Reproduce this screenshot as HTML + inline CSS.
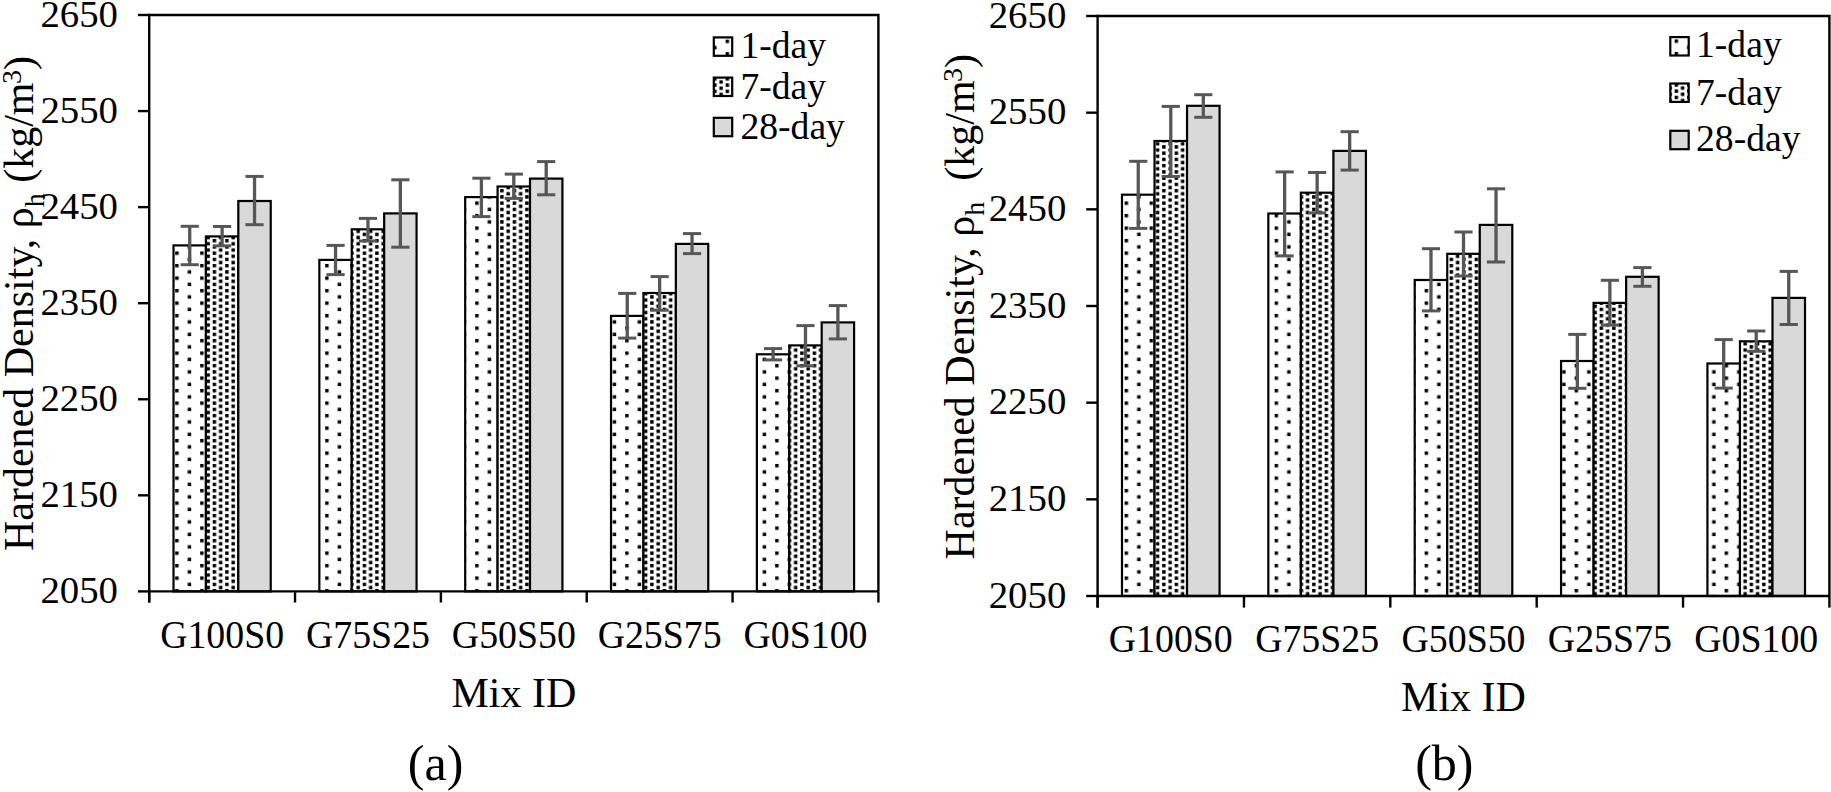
<!DOCTYPE html>
<html><head><meta charset="utf-8"><title>Hardened Density</title>
<style>
html,body{margin:0;padding:0;background:#fff;}
body{width:1831px;height:792px;overflow:hidden;}
svg{display:block;}
text{font-family:"Liberation Serif", "Times New Roman", serif;fill:#000;}
</style></head><body>
<svg width="1831" height="792" viewBox="0 0 1831 792">
<defs>
<pattern id="p10L" patternUnits="userSpaceOnUse" x="0.187" y="1.438" width="25.0" height="12.5"><rect x="0" y="0" width="3.45" height="3.45"/><rect x="12.5" y="6.25" width="3.45" height="3.45"/></pattern>
<pattern id="p25L" patternUnits="userSpaceOnUse" x="0.187" y="1.438" width="12.5" height="6.25"><rect x="0" y="0" width="3.45" height="3.45"/><rect x="6.25" y="3.125" width="3.45" height="3.45"/><rect x="6.25" y="-3.125" width="3.45" height="3.45"/></pattern>
<pattern id="p10R" patternUnits="userSpaceOnUse" x="-0.363" y="1.438" width="25.0" height="12.5"><rect x="0" y="0" width="3.45" height="3.45"/><rect x="12.5" y="6.25" width="3.45" height="3.45"/></pattern>
<pattern id="p25R" patternUnits="userSpaceOnUse" x="-0.363" y="1.438" width="12.5" height="6.25"><rect x="0" y="0" width="3.45" height="3.45"/><rect x="6.25" y="3.125" width="3.45" height="3.45"/><rect x="6.25" y="-3.125" width="3.45" height="3.45"/></pattern>
<pattern id="p10LG" patternUnits="userSpaceOnUse" x="0.627" y="2.127" width="25.0" height="12.5"><rect x="0" y="0" width="3.45" height="3.45"/><rect x="12.5" y="6.25" width="3.45" height="3.45"/></pattern>
<pattern id="p25LG" patternUnits="userSpaceOnUse" x="0.627" y="2.127" width="12.5" height="6.25"><rect x="0" y="0" width="3.45" height="3.45"/><rect x="6.25" y="3.125" width="3.45" height="3.45"/><rect x="6.25" y="-3.125" width="3.45" height="3.45"/></pattern>
<pattern id="p10RG" patternUnits="userSpaceOnUse" x="-0.363" y="1.938" width="25.0" height="12.5"><rect x="0" y="0" width="3.45" height="3.45"/><rect x="12.5" y="6.25" width="3.45" height="3.45"/></pattern>
<pattern id="p25RG" patternUnits="userSpaceOnUse" x="-0.363" y="1.938" width="12.5" height="6.25"><rect x="0" y="0" width="3.45" height="3.45"/><rect x="6.25" y="3.125" width="3.45" height="3.45"/><rect x="6.25" y="-3.125" width="3.45" height="3.45"/></pattern>
</defs>
<rect x="0" y="0" width="1831" height="792" fill="#fff"/>

<g>
<rect x="173.507" y="245.4" width="32.409" height="346" fill="#fff"/>
<rect x="173.507" y="245.4" width="32.409" height="346" fill="url(#p10L)" stroke="#000" stroke-width="2.2"/>
<rect x="205.916" y="236.4" width="32.409" height="355" fill="#fff"/>
<rect x="205.916" y="236.4" width="32.409" height="355" fill="url(#p25L)" stroke="#000" stroke-width="2.2"/>
<rect x="238.324" y="201" width="32.409" height="390.4" fill="#d9d9d9" stroke="#000" stroke-width="2.2"/>
<rect x="319.347" y="259.9" width="32.409" height="331.5" fill="#fff"/>
<rect x="319.347" y="259.9" width="32.409" height="331.5" fill="url(#p10L)" stroke="#000" stroke-width="2.2"/>
<rect x="351.756" y="229.3" width="32.409" height="362.1" fill="#fff"/>
<rect x="351.756" y="229.3" width="32.409" height="362.1" fill="url(#p25L)" stroke="#000" stroke-width="2.2"/>
<rect x="384.164" y="213.4" width="32.409" height="378" fill="#d9d9d9" stroke="#000" stroke-width="2.2"/>
<rect x="465.187" y="197.1" width="32.409" height="394.3" fill="#fff"/>
<rect x="465.187" y="197.1" width="32.409" height="394.3" fill="url(#p10L)" stroke="#000" stroke-width="2.2"/>
<rect x="497.596" y="186.5" width="32.409" height="404.9" fill="#fff"/>
<rect x="497.596" y="186.5" width="32.409" height="404.9" fill="url(#p25L)" stroke="#000" stroke-width="2.2"/>
<rect x="530.004" y="178.6" width="32.409" height="412.8" fill="#d9d9d9" stroke="#000" stroke-width="2.2"/>
<rect x="611.027" y="315.9" width="32.409" height="275.5" fill="#fff"/>
<rect x="611.027" y="315.9" width="32.409" height="275.5" fill="url(#p10L)" stroke="#000" stroke-width="2.2"/>
<rect x="643.436" y="293" width="32.409" height="298.4" fill="#fff"/>
<rect x="643.436" y="293" width="32.409" height="298.4" fill="url(#p25L)" stroke="#000" stroke-width="2.2"/>
<rect x="675.844" y="243.9" width="32.409" height="347.5" fill="#d9d9d9" stroke="#000" stroke-width="2.2"/>
<rect x="756.867" y="354.3" width="32.409" height="237.1" fill="#fff"/>
<rect x="756.867" y="354.3" width="32.409" height="237.1" fill="url(#p10L)" stroke="#000" stroke-width="2.2"/>
<rect x="789.276" y="345.4" width="32.409" height="246" fill="#fff"/>
<rect x="789.276" y="345.4" width="32.409" height="246" fill="url(#p25L)" stroke="#000" stroke-width="2.2"/>
<rect x="821.684" y="322.4" width="32.409" height="269" fill="#d9d9d9" stroke="#000" stroke-width="2.2"/>
</g>
<g stroke="#575757" fill="none">
<line x1="189.711" y1="226.3" x2="189.711" y2="264.7" stroke-width="3.3"/>
<line x1="180.611" y1="226.3" x2="198.811" y2="226.3" stroke-width="3.0"/>
<line x1="180.611" y1="264.7" x2="198.811" y2="264.7" stroke-width="3.0"/>
<line x1="222.12" y1="226.5" x2="222.12" y2="245.8" stroke-width="3.3"/>
<line x1="213.02" y1="226.5" x2="231.22" y2="226.5" stroke-width="3.0"/>
<line x1="213.02" y1="245.8" x2="231.22" y2="245.8" stroke-width="3.0"/>
<line x1="254.529" y1="176.4" x2="254.529" y2="224.7" stroke-width="3.3"/>
<line x1="245.429" y1="176.4" x2="263.629" y2="176.4" stroke-width="3.0"/>
<line x1="245.429" y1="224.7" x2="263.629" y2="224.7" stroke-width="3.0"/>
<line x1="335.551" y1="245.4" x2="335.551" y2="274.6" stroke-width="3.3"/>
<line x1="326.451" y1="245.4" x2="344.651" y2="245.4" stroke-width="3.0"/>
<line x1="326.451" y1="274.6" x2="344.651" y2="274.6" stroke-width="3.0"/>
<line x1="367.96" y1="218.4" x2="367.96" y2="241" stroke-width="3.3"/>
<line x1="358.86" y1="218.4" x2="377.06" y2="218.4" stroke-width="3.0"/>
<line x1="358.86" y1="241" x2="377.06" y2="241" stroke-width="3.0"/>
<line x1="400.369" y1="179.8" x2="400.369" y2="247.2" stroke-width="3.3"/>
<line x1="391.269" y1="179.8" x2="409.469" y2="179.8" stroke-width="3.0"/>
<line x1="391.269" y1="247.2" x2="409.469" y2="247.2" stroke-width="3.0"/>
<line x1="481.391" y1="178.2" x2="481.391" y2="216.6" stroke-width="3.3"/>
<line x1="472.291" y1="178.2" x2="490.491" y2="178.2" stroke-width="3.0"/>
<line x1="472.291" y1="216.6" x2="490.491" y2="216.6" stroke-width="3.0"/>
<line x1="513.8" y1="174.1" x2="513.8" y2="198.4" stroke-width="3.3"/>
<line x1="504.7" y1="174.1" x2="522.9" y2="174.1" stroke-width="3.0"/>
<line x1="504.7" y1="198.4" x2="522.9" y2="198.4" stroke-width="3.0"/>
<line x1="546.209" y1="161.6" x2="546.209" y2="194.8" stroke-width="3.3"/>
<line x1="537.109" y1="161.6" x2="555.309" y2="161.6" stroke-width="3.0"/>
<line x1="537.109" y1="194.8" x2="555.309" y2="194.8" stroke-width="3.0"/>
<line x1="627.231" y1="293.4" x2="627.231" y2="338.1" stroke-width="3.3"/>
<line x1="618.131" y1="293.4" x2="636.331" y2="293.4" stroke-width="3.0"/>
<line x1="618.131" y1="338.1" x2="636.331" y2="338.1" stroke-width="3.0"/>
<line x1="659.64" y1="276.6" x2="659.64" y2="310.2" stroke-width="3.3"/>
<line x1="650.54" y1="276.6" x2="668.74" y2="276.6" stroke-width="3.0"/>
<line x1="650.54" y1="310.2" x2="668.74" y2="310.2" stroke-width="3.0"/>
<line x1="692.049" y1="233.6" x2="692.049" y2="253.6" stroke-width="3.3"/>
<line x1="682.949" y1="233.6" x2="701.149" y2="233.6" stroke-width="3.0"/>
<line x1="682.949" y1="253.6" x2="701.149" y2="253.6" stroke-width="3.0"/>
<line x1="773.071" y1="348.6" x2="773.071" y2="359.9" stroke-width="3.3"/>
<line x1="763.971" y1="348.6" x2="782.171" y2="348.6" stroke-width="3.0"/>
<line x1="763.971" y1="359.9" x2="782.171" y2="359.9" stroke-width="3.0"/>
<line x1="805.48" y1="325.6" x2="805.48" y2="365.8" stroke-width="3.3"/>
<line x1="796.38" y1="325.6" x2="814.58" y2="325.6" stroke-width="3.0"/>
<line x1="796.38" y1="365.8" x2="814.58" y2="365.8" stroke-width="3.0"/>
<line x1="837.889" y1="305.6" x2="837.889" y2="338.9" stroke-width="3.3"/>
<line x1="828.789" y1="305.6" x2="846.989" y2="305.6" stroke-width="3.0"/>
<line x1="828.789" y1="338.9" x2="846.989" y2="338.9" stroke-width="3.0"/>
</g>
<g stroke="#000" stroke-width="2.4" fill="none" stroke-linecap="butt">
<path d="M149.2 15 H878.4 V591.4"/>
<path d="M149.2 13.8 V602.5"/>
<path d="M148 591.4 H878.4"/>
<path d="M138 15 H149.2"/>
<path d="M138 111.067 H149.2"/>
<path d="M138 207.133 H149.2"/>
<path d="M138 303.2 H149.2"/>
<path d="M138 399.267 H149.2"/>
<path d="M138 495.333 H149.2"/>
<path d="M138 591.4 H149.2"/>
<path d="M149.2 591.4 V602.5"/>
<path d="M295.04 591.4 V602.5"/>
<path d="M440.88 591.4 V602.5"/>
<path d="M586.72 591.4 V602.5"/>
<path d="M732.56 591.4 V602.5"/>
<path d="M878.4 591.4 V602.5"/>
</g>
<text x="118" y="26.8" font-size="38.8" text-anchor="end">2650</text>
<text x="118" y="122.867" font-size="38.8" text-anchor="end">2550</text>
<text x="118" y="218.933" font-size="38.8" text-anchor="end">2450</text>
<text x="118" y="315" font-size="38.8" text-anchor="end">2350</text>
<text x="118" y="411.067" font-size="38.8" text-anchor="end">2250</text>
<text x="118" y="507.133" font-size="38.8" text-anchor="end">2150</text>
<text x="118" y="603.2" font-size="38.8" text-anchor="end">2050</text>
<text transform="translate(222.12,647.9) scale(0.958,1.0)" font-size="39.5" text-anchor="middle">G100S0</text>
<text transform="translate(367.96,647.9) scale(0.958,1.0)" font-size="39.5" text-anchor="middle">G75S25</text>
<text transform="translate(513.8,647.9) scale(0.958,1.0)" font-size="39.5" text-anchor="middle">G50S50</text>
<text transform="translate(659.64,647.9) scale(0.958,1.0)" font-size="39.5" text-anchor="middle">G25S75</text>
<text transform="translate(805.48,647.9) scale(0.958,1.0)" font-size="39.5" text-anchor="middle">G0S100</text>
<text x="513.8" y="706.7" font-size="42" text-anchor="middle">Mix ID</text>
<text x="435.6" y="779.6" font-size="50" text-anchor="middle">(a)</text>
<rect x="712.8" y="36.4" width="20" height="20" fill="#fff"/>
<rect x="713.8" y="37.4" width="18.4" height="18.4" fill="url(#p10LG)" stroke="#000" stroke-width="2.2"/>
<text transform="translate(740.4,58.1) scale(0.978,1.0)" font-size="38.5">1-day</text>
<rect x="712.8" y="76.6" width="20" height="20" fill="#fff"/>
<rect x="713.8" y="77.6" width="18.4" height="18.4" fill="url(#p25LG)" stroke="#000" stroke-width="2.2"/>
<text transform="translate(740.4,99.3) scale(0.978,1.0)" font-size="38.5">7-day</text>
<rect x="713.8" y="117.8" width="18.4" height="18.4" fill="#d9d9d9" stroke="#000" stroke-width="2.2"/>
<text transform="translate(740.4,138.9) scale(0.978,1.0)" font-size="38.5">28-day</text>
<text transform="translate(33.2,551) rotate(-90)" font-size="42">Hardened Density, ρ<tspan font-size="28" dy="10.3">h</tspan><tspan dy="-10.3"> (kg/m</tspan><tspan font-size="28" dx="-1.5" dy="-12.2">3</tspan><tspan dy="12.2">)</tspan></text>
<g>
<rect x="1121.993" y="194.7" width="32.524" height="401.3" fill="#fff"/>
<rect x="1121.993" y="194.7" width="32.524" height="401.3" fill="url(#p10R)" stroke="#000" stroke-width="2.2"/>
<rect x="1154.518" y="141" width="32.524" height="455" fill="#fff"/>
<rect x="1154.518" y="141" width="32.524" height="455" fill="url(#p25R)" stroke="#000" stroke-width="2.2"/>
<rect x="1187.042" y="105.8" width="32.524" height="490.2" fill="#d9d9d9" stroke="#000" stroke-width="2.2"/>
<rect x="1268.353" y="213.5" width="32.524" height="382.5" fill="#fff"/>
<rect x="1268.353" y="213.5" width="32.524" height="382.5" fill="url(#p10R)" stroke="#000" stroke-width="2.2"/>
<rect x="1300.878" y="192.7" width="32.524" height="403.3" fill="#fff"/>
<rect x="1300.878" y="192.7" width="32.524" height="403.3" fill="url(#p25R)" stroke="#000" stroke-width="2.2"/>
<rect x="1333.402" y="150.9" width="32.524" height="445.1" fill="#d9d9d9" stroke="#000" stroke-width="2.2"/>
<rect x="1414.713" y="280" width="32.524" height="316" fill="#fff"/>
<rect x="1414.713" y="280" width="32.524" height="316" fill="url(#p10R)" stroke="#000" stroke-width="2.2"/>
<rect x="1447.238" y="253.8" width="32.524" height="342.2" fill="#fff"/>
<rect x="1447.238" y="253.8" width="32.524" height="342.2" fill="url(#p25R)" stroke="#000" stroke-width="2.2"/>
<rect x="1479.762" y="224.9" width="32.524" height="371.1" fill="#d9d9d9" stroke="#000" stroke-width="2.2"/>
<rect x="1561.073" y="361" width="32.524" height="235" fill="#fff"/>
<rect x="1561.073" y="361" width="32.524" height="235" fill="url(#p10R)" stroke="#000" stroke-width="2.2"/>
<rect x="1593.598" y="302.9" width="32.524" height="293.1" fill="#fff"/>
<rect x="1593.598" y="302.9" width="32.524" height="293.1" fill="url(#p25R)" stroke="#000" stroke-width="2.2"/>
<rect x="1626.122" y="276.8" width="32.524" height="319.2" fill="#d9d9d9" stroke="#000" stroke-width="2.2"/>
<rect x="1707.433" y="363.5" width="32.524" height="232.5" fill="#fff"/>
<rect x="1707.433" y="363.5" width="32.524" height="232.5" fill="url(#p10R)" stroke="#000" stroke-width="2.2"/>
<rect x="1739.958" y="341.3" width="32.524" height="254.7" fill="#fff"/>
<rect x="1739.958" y="341.3" width="32.524" height="254.7" fill="url(#p25R)" stroke="#000" stroke-width="2.2"/>
<rect x="1772.482" y="297.9" width="32.524" height="298.1" fill="#d9d9d9" stroke="#000" stroke-width="2.2"/>
</g>
<g stroke="#575757" fill="none">
<line x1="1138.256" y1="161.3" x2="1138.256" y2="228.4" stroke-width="3.3"/>
<line x1="1129.156" y1="161.3" x2="1147.356" y2="161.3" stroke-width="3.0"/>
<line x1="1129.156" y1="228.4" x2="1147.356" y2="228.4" stroke-width="3.0"/>
<line x1="1170.78" y1="106.4" x2="1170.78" y2="176.5" stroke-width="3.3"/>
<line x1="1161.68" y1="106.4" x2="1179.88" y2="106.4" stroke-width="3.0"/>
<line x1="1161.68" y1="176.5" x2="1179.88" y2="176.5" stroke-width="3.0"/>
<line x1="1203.304" y1="94.7" x2="1203.304" y2="117.3" stroke-width="3.3"/>
<line x1="1194.204" y1="94.7" x2="1212.404" y2="94.7" stroke-width="3.0"/>
<line x1="1194.204" y1="117.3" x2="1212.404" y2="117.3" stroke-width="3.0"/>
<line x1="1284.616" y1="171.9" x2="1284.616" y2="255.9" stroke-width="3.3"/>
<line x1="1275.516" y1="171.9" x2="1293.716" y2="171.9" stroke-width="3.0"/>
<line x1="1275.516" y1="255.9" x2="1293.716" y2="255.9" stroke-width="3.0"/>
<line x1="1317.14" y1="172.5" x2="1317.14" y2="212.9" stroke-width="3.3"/>
<line x1="1308.04" y1="172.5" x2="1326.24" y2="172.5" stroke-width="3.0"/>
<line x1="1308.04" y1="212.9" x2="1326.24" y2="212.9" stroke-width="3.0"/>
<line x1="1349.664" y1="131.7" x2="1349.664" y2="170.1" stroke-width="3.3"/>
<line x1="1340.564" y1="131.7" x2="1358.764" y2="131.7" stroke-width="3.0"/>
<line x1="1340.564" y1="170.1" x2="1358.764" y2="170.1" stroke-width="3.0"/>
<line x1="1430.976" y1="248.7" x2="1430.976" y2="310.9" stroke-width="3.3"/>
<line x1="1421.876" y1="248.7" x2="1440.076" y2="248.7" stroke-width="3.0"/>
<line x1="1421.876" y1="310.9" x2="1440.076" y2="310.9" stroke-width="3.0"/>
<line x1="1463.5" y1="232" x2="1463.5" y2="276" stroke-width="3.3"/>
<line x1="1454.4" y1="232" x2="1472.6" y2="232" stroke-width="3.0"/>
<line x1="1454.4" y1="276" x2="1472.6" y2="276" stroke-width="3.0"/>
<line x1="1496.024" y1="188.8" x2="1496.024" y2="262" stroke-width="3.3"/>
<line x1="1486.924" y1="188.8" x2="1505.124" y2="188.8" stroke-width="3.0"/>
<line x1="1486.924" y1="262" x2="1505.124" y2="262" stroke-width="3.0"/>
<line x1="1577.336" y1="334.4" x2="1577.336" y2="388.3" stroke-width="3.3"/>
<line x1="1568.236" y1="334.4" x2="1586.436" y2="334.4" stroke-width="3.0"/>
<line x1="1568.236" y1="388.3" x2="1586.436" y2="388.3" stroke-width="3.0"/>
<line x1="1609.86" y1="280.3" x2="1609.86" y2="325.1" stroke-width="3.3"/>
<line x1="1600.76" y1="280.3" x2="1618.96" y2="280.3" stroke-width="3.0"/>
<line x1="1600.76" y1="325.1" x2="1618.96" y2="325.1" stroke-width="3.0"/>
<line x1="1642.384" y1="267.6" x2="1642.384" y2="286.3" stroke-width="3.3"/>
<line x1="1633.284" y1="267.6" x2="1651.484" y2="267.6" stroke-width="3.0"/>
<line x1="1633.284" y1="286.3" x2="1651.484" y2="286.3" stroke-width="3.0"/>
<line x1="1723.696" y1="339.6" x2="1723.696" y2="388.1" stroke-width="3.3"/>
<line x1="1714.596" y1="339.6" x2="1732.796" y2="339.6" stroke-width="3.0"/>
<line x1="1714.596" y1="388.1" x2="1732.796" y2="388.1" stroke-width="3.0"/>
<line x1="1756.22" y1="331" x2="1756.22" y2="351.3" stroke-width="3.3"/>
<line x1="1747.12" y1="331" x2="1765.32" y2="331" stroke-width="3.0"/>
<line x1="1747.12" y1="351.3" x2="1765.32" y2="351.3" stroke-width="3.0"/>
<line x1="1788.744" y1="271.4" x2="1788.744" y2="324.5" stroke-width="3.3"/>
<line x1="1779.644" y1="271.4" x2="1797.844" y2="271.4" stroke-width="3.0"/>
<line x1="1779.644" y1="324.5" x2="1797.844" y2="324.5" stroke-width="3.0"/>
</g>
<g stroke="#000" stroke-width="2.4" fill="none" stroke-linecap="butt">
<path d="M1097.6 16 H1829.4 V596"/>
<path d="M1097.6 14.8 V607.6"/>
<path d="M1096.4 596 H1829.4"/>
<path d="M1086.2 16 H1097.6"/>
<path d="M1086.2 112.667 H1097.6"/>
<path d="M1086.2 209.333 H1097.6"/>
<path d="M1086.2 306 H1097.6"/>
<path d="M1086.2 402.667 H1097.6"/>
<path d="M1086.2 499.333 H1097.6"/>
<path d="M1086.2 596 H1097.6"/>
<path d="M1097.6 596 V607.6"/>
<path d="M1243.96 596 V607.6"/>
<path d="M1390.32 596 V607.6"/>
<path d="M1536.68 596 V607.6"/>
<path d="M1683.04 596 V607.6"/>
<path d="M1829.4 596 V607.6"/>
</g>
<text x="1066.3" y="27.8" font-size="38.8" text-anchor="end">2650</text>
<text x="1066.3" y="124.467" font-size="38.8" text-anchor="end">2550</text>
<text x="1066.3" y="221.133" font-size="38.8" text-anchor="end">2450</text>
<text x="1066.3" y="317.8" font-size="38.8" text-anchor="end">2350</text>
<text x="1066.3" y="414.467" font-size="38.8" text-anchor="end">2250</text>
<text x="1066.3" y="511.133" font-size="38.8" text-anchor="end">2150</text>
<text x="1066.3" y="607.8" font-size="38.8" text-anchor="end">2050</text>
<text transform="translate(1170.78,651.6) scale(0.958,1.0)" font-size="39.5" text-anchor="middle">G100S0</text>
<text transform="translate(1317.14,651.6) scale(0.958,1.0)" font-size="39.5" text-anchor="middle">G75S25</text>
<text transform="translate(1463.5,651.6) scale(0.958,1.0)" font-size="39.5" text-anchor="middle">G50S50</text>
<text transform="translate(1609.86,651.6) scale(0.958,1.0)" font-size="39.5" text-anchor="middle">G25S75</text>
<text transform="translate(1756.22,651.6) scale(0.958,1.0)" font-size="39.5" text-anchor="middle">G0S100</text>
<text x="1463.5" y="710.8" font-size="42" text-anchor="middle">Mix ID</text>
<text x="1444.3" y="779.6" font-size="50" text-anchor="middle">(b)</text>
<rect x="1669.3" y="36.1" width="20" height="20" fill="#fff"/>
<rect x="1670.3" y="37.1" width="18.4" height="18.4" fill="url(#p10RG)" stroke="#000" stroke-width="2.2"/>
<text transform="translate(1696,57.4) scale(0.978,1.0)" font-size="38.5">1-day</text>
<rect x="1669.3" y="82.5" width="20" height="20" fill="#fff"/>
<rect x="1670.3" y="83.5" width="18.4" height="18.4" fill="url(#p25RG)" stroke="#000" stroke-width="2.2"/>
<text transform="translate(1696,104.9) scale(0.978,1.0)" font-size="38.5">7-day</text>
<rect x="1670.3" y="130.8" width="18.4" height="18.4" fill="#d9d9d9" stroke="#000" stroke-width="2.2"/>
<text transform="translate(1696,151.3) scale(0.978,1.0)" font-size="38.5">28-day</text>
<text transform="translate(973.7,559.4) rotate(-90)" font-size="42">Hardened Density, ρ<tspan font-size="28" dy="10.3">h</tspan><tspan dy="-10.3">  (kg/m</tspan><tspan font-size="28" dx="-1.5" dy="-12.2">3</tspan><tspan dy="12.2">)</tspan></text>
</svg>
</body></html>
